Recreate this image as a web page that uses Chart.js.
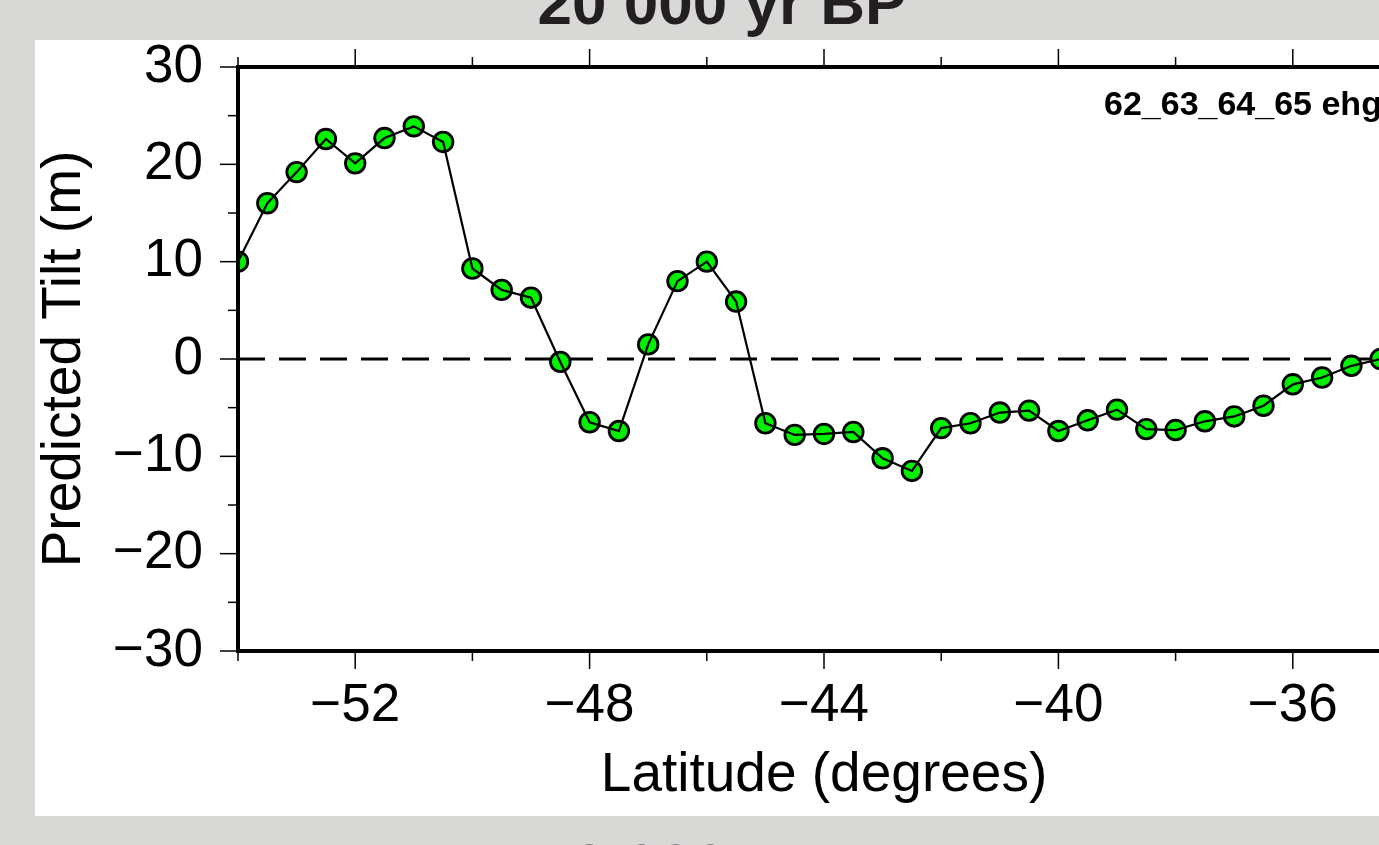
<!DOCTYPE html>
<html>
<head>
<meta charset="utf-8">
<title>Predicted Tilt - 20 000 yr BP</title>
<script src="https://cdn.jsdelivr.net/npm/chart.js@4.4.1/dist/chart.umd.min.js"></script>
<style>
    html, body { margin: 0; padding: 0; }
    body {
        position: relative;
        width: 1379px;
        height: 845px;
        overflow: hidden;
        background: #d8d9d6;
        font-family: "Liberation Sans", Arial, Helvetica, sans-serif;
    }
    .era {
        position: absolute;
        left: 0;
        width: 1444px;
        text-align: center;
        font-weight: bold;
        font-size: 62px;
        line-height: 62px;
        color: #231f20;
        white-space: nowrap;
    }
    #panel {
        position: absolute;
        left: 35px;
        top: 40px;
        width: 1400px;
        height: 776px;
        background: #fff;
    }
    #run-tag {
        position: absolute;
        left: 1069px;
        top: 46px;
        font-weight: bold;
        font-size: 34px;
        line-height: 34px;
        color: #000;
        white-space: nowrap;
    }
</style>
</head>
<body>
<div class="era" style="top:-28px">20 000 yr BP</div>
<div id="panel">
    <canvas id="tilt-chart" width="1400" height="776"></canvas>
    <div id="run-tag">62_63_64_65 ehg</div>
</div>
<div class="era" style="top:835px">18 000 yr BP</div>

<script>
// latitude of each sample (degrees) and the predicted tilt there (m)
var latitudes = [-54, -53.5, -53, -52.5, -52, -51.5, -51, -50.5, -50, -49.5,
                 -49, -48.5, -48, -47.5, -47, -46.5, -46, -45.5, -45, -44.5,
                 -44, -43.5, -43, -42.5, -42, -41.5, -41, -40.5, -40, -39.5,
                 -39, -38.5, -38, -37.5, -37, -36.5, -36, -35.5, -35, -34.5];
var tilt = [10.0, 16.0, 19.2, 22.6, 20.1, 22.7, 23.9, 22.3, 9.3, 7.1,
            6.3, -0.3, -6.5, -7.4, 1.5, 8.0, 10.0, 5.9, -6.6, -7.8,
            -7.7, -7.5, -10.2, -11.5, -7.1, -6.6, -5.5, -5.3, -7.4, -6.3,
            -5.2, -7.2, -7.3, -6.4, -5.9, -4.8, -2.6, -1.9, -0.7, 0.0];

// axis ticks (every tick gets a mark, only the labelled ones get text)
var x_ticks = [-54, -52, -50, -48, -46, -44, -42, -40, -38, -36, -34];
var x_labelled = [-52, -48, -44, -40, -36];
var y_ticks = [-30, -25, -20, -15, -10, -5, 0, 5, 10, 15, 20, 25, 30];
var y_labelled = [-30, -20, -10, 0, 10, 20, 30];

var x_range = [-54, -34];
var y_range = [-30, 30];
var zero_level = 0;

var font_family = '"Liberation Sans", Arial, Helvetica, sans-serif';
var chart = null;

format_minus = function (v) {
    return v < 0 ? '\u2212' + Math.abs(v) : String(v);
}

get_points = function () {
    var points = [];
    for (var i = 0; i < latitudes.length; i++) {
        points.push({ x: latitudes[i], y: tilt[i] });
    }
    return points;
}

// the axes are sized by hand, so drop the label overflow padding
no_scale_padding = function (scale) {
    scale.paddingTop = 0;
    scale.paddingBottom = 0;
    scale.paddingLeft = 0;
    scale.paddingRight = 0;
}

// box round the plot plus the tick marks on all four sides
var frame_plugin = {
    id: 'frame',
    afterDraw: function (chart) {
        var area = chart.chartArea;
        var sx = chart.scales.x;
        var sy = chart.scales.y;
        var c = chart.ctx;

        var seg = function (x0, y0, x1, y1) {
            c.beginPath();
            c.moveTo(x0, y0);
            c.lineTo(x1, y1);
            c.stroke();
        };

        c.save();
        c.strokeStyle = '#000';
        c.lineWidth = 1.5;
        for (var i = 0; i < x_ticks.length; i++) {
            var px = sx.getPixelForValue(x_ticks[i]);
            var len = x_labelled.indexOf(x_ticks[i]) >= 0 ? 18 : 10;
            seg(px, area.bottom, px, area.bottom + len);
            seg(px, area.top, px, area.top - len);
        }
        for (var j = 0; j < y_ticks.length; j++) {
            var py = sy.getPixelForValue(y_ticks[j]);
            var len = y_labelled.indexOf(y_ticks[j]) >= 0 ? 18 : 10;
            seg(area.left, py, area.left - len, py);
            seg(area.right, py, area.right + len, py);
        }
        c.lineWidth = 4;
        c.strokeRect(area.left, area.top, area.right - area.left, area.bottom - area.top);
        c.restore();
    }
};

function create_chart_tilt() {
    var ctx = document.getElementById('tilt-chart');
    var points = get_points();
    var zero_line = [{ x: x_range[0], y: zero_level }, { x: x_range[1], y: zero_level }];

    chart = new Chart(ctx, {
        type: 'scatter',
        data: {
            datasets: [
                {
                    label: 'Tilt line',
                    data: points,
                    showLine: true,
                    borderColor: '#000',
                    borderWidth: 2.2,
                    pointRadius: 0,
                    order: 0
                },
                {
                    label: 'Tilt',
                    data: points,
                    showLine: false,
                    pointRadius: 9.8,
                    pointBorderWidth: 2.8,
                    pointBackgroundColor: '#00f000',
                    pointBorderColor: '#000',
                    order: 1
                },
                {
                    label: 'Zero',
                    data: zero_line,
                    showLine: true,
                    borderColor: '#000',
                    borderWidth: 3,
                    borderDash: [27, 14],
                    pointRadius: 0,
                    order: 2
                }
            ]
        },
        options: {
            responsive: false,
            animation: false,
            devicePixelRatio: 1,
            events: [],
            layout: {
                padding: { top: 27, right: 25, left: 0, bottom: 0 }
            },
            plugins: {
                legend: { display: false },
                tooltip: { enabled: false }
            },
            scales: {
                x: {
                    type: 'linear',
                    position: 'bottom',
                    min: x_range[0],
                    max: x_range[1],
                    grid: { display: false, drawTicks: false },
                    border: { display: false },
                    afterBuildTicks: function (scale) {
                        scale.ticks = x_ticks.map(function (v) { return { value: v }; });
                    },
                    afterFit: function (scale) {
                        scale.height = 165;
                        no_scale_padding(scale);
                    },
                    ticks: {
                        autoSkip: false,
                        maxRotation: 0,
                        padding: 29,
                        color: '#000',
                        font: { family: font_family, size: 53, lineHeight: 1 },
                        callback: function (value) {
                            return x_labelled.indexOf(value) >= 0 ? format_minus(value) : '';
                        }
                    },
                    title: {
                        display: true,
                        text: 'Latitude (degrees)',
                        color: '#000',
                        font: { family: font_family, size: 55, lineHeight: 1 },
                        padding: { top: 0, bottom: 13 }
                    }
                },
                y: {
                    type: 'linear',
                    position: 'left',
                    min: y_range[0],
                    max: y_range[1],
                    grid: { display: false, drawTicks: false },
                    border: { display: false },
                    afterBuildTicks: function (scale) {
                        scale.ticks = y_ticks.map(function (v) { return { value: v }; });
                    },
                    afterFit: function (scale) {
                        scale.width = 203;
                        no_scale_padding(scale);
                    },
                    ticks: {
                        autoSkip: false,
                        padding: 35,
                        color: '#000',
                        font: { family: font_family, size: 53, lineHeight: 1 },
                        callback: function (value) {
                            return y_labelled.indexOf(value) >= 0 ? format_minus(value) : '';
                        }
                    },
                    title: {
                        display: true,
                        text: 'Predicted Tilt (m)',
                        color: '#000',
                        font: { family: font_family, size: 55, lineHeight: 1 },
                        padding: { top: 2, bottom: 0 }
                    }
                }
            }
        },
        plugins: [frame_plugin]
    });
}

create_chart_tilt();
</script>
</body>
</html>
